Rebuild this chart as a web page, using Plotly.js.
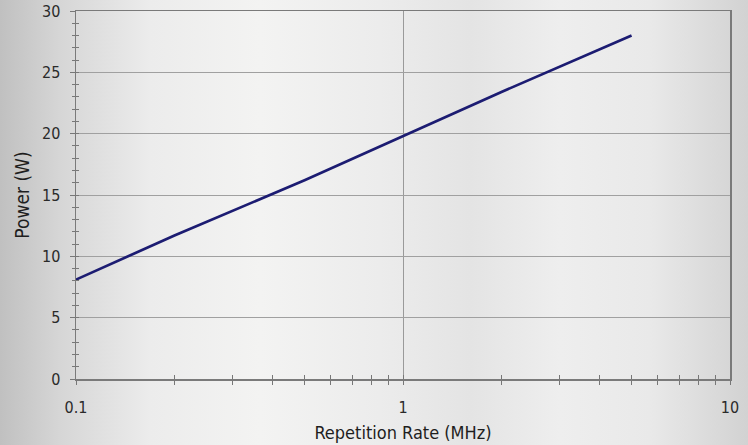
<!DOCTYPE html>
<html>
<head>
<meta charset="utf-8">
<script src="https://cdn.plot.ly/plotly-3.0.1.min.js"></script>
<style>
html,body{margin:0;padding:0;}
body{width:748px;height:445px;overflow:hidden;
background:linear-gradient(to right,#c0c0c0 0px,#d6d6d6 60px,#ececec 150px,#f3f3f2 260px,#ececec 380px,#e4e4e4 470px,#eeeeee 560px,#e9e9e9 650px,#d2d2d2 748px);}
#chart{width:748px;height:445px;}
</style>
</head>
<body>
<div id="chart"></div>
<script>
const repRate = [0.1, 0.2, 0.5, 1, 2, 5];
const power = [8.1, 11.7, 16.2, 19.8, 23.4, 28.0];
const xTickVals = [0.1, 1, 10];
const xTickText = ['0.1', '1', '10'];
const yTickVals = [0, 5, 10, 15, 20, 25, 30];

const font = {family: '"DejaVu Sans Condensed", "DejaVu Sans", sans-serif', size: 13, color: '#2a2a2a'};

const trace = {
  x: repRate, y: power, type: 'scatter', mode: 'lines',
  line: {color: '#1c1c72', width: 2.7}, hoverinfo: 'skip', showlegend: false
};

const layout = {
  width: 748, height: 445,
  margin: {l: 76, r: 18, t: 11, b: 66},
  paper_bgcolor: 'rgba(0,0,0,0)', plot_bgcolor: 'rgba(0,0,0,0)',
  font: font,
  showlegend: false,
  xaxis: {
    type: 'log', range: [-1, 1],
    tickvals: xTickVals, ticktext: xTickText,
    ticks: 'outside', ticklen: 4, tickcolor: '#777', tickwidth: 1,
    minor: {ticks: 'outside', ticklen: 4, tickcolor: '#777', dtick: 'D1', showgrid: false},
    showgrid: true, gridcolor: '#9a9a9a', gridwidth: 1,
    showline: true, linecolor: '#7a7a7a', linewidth: 1.5, mirror: true,
    zeroline: false,
    tickfont: {size: 16},
    ticklabelstandoff: 9,
    title: {text: 'Repetition Rate (MHz)', font: {size: 18, color: '#1e1e1e'}, standoff: 10},
    automargin: false
  },
  xaxis2: {
    type: 'log', range: [-1, 1], overlaying: 'x', anchor: 'y', side: 'bottom',
    tickvals: xTickVals, ticks: 'inside', ticklen: 4, tickcolor: '#777',
    minor: {ticks: 'inside', ticklen: 4, tickcolor: '#777', dtick: 'D1', showgrid: false},
    showticklabels: false, showgrid: false, showline: false, zeroline: false
  },
  yaxis: {
    range: [0, 30], tickvals: yTickVals,
    ticks: 'outside', ticklen: 5, tickcolor: '#777',
    minor: {ticks: 'outside', ticklen: 3, tickcolor: '#777', dtick: 1, showgrid: false},
    showgrid: true, gridcolor: '#a0a0a0', gridwidth: 1,
    showline: true, linecolor: '#7a7a7a', linewidth: 1.5, mirror: true,
    zeroline: false,
    tickfont: {size: 16},
    ticklabelstandoff: 6,
    title: {text: 'Power (W)', font: {size: 19, color: '#1e1e1e'}, standoff: 7},
    automargin: false
  },
  yaxis2: {
    range: [0, 30], overlaying: 'y', anchor: 'x', side: 'left',
    tickvals: yTickVals, ticks: 'inside', ticklen: 2, tickcolor: '#777',
    minor: {ticks: 'inside', ticklen: 3, tickcolor: '#777', dtick: 1, showgrid: false},
    showticklabels: false, showgrid: false, showline: false, zeroline: false
  }
};

const ghost = {x: repRate, y: power, xaxis: 'x2', yaxis: 'y2', type: 'scatter', mode: 'lines',
  line: {color: 'rgba(0,0,0,0)', width: 0}, hoverinfo: 'skip', showlegend: false};

Plotly.newPlot('chart', [ghost, trace], layout, {displayModeBar: false, staticPlot: true});
</script>
</body>
</html>
